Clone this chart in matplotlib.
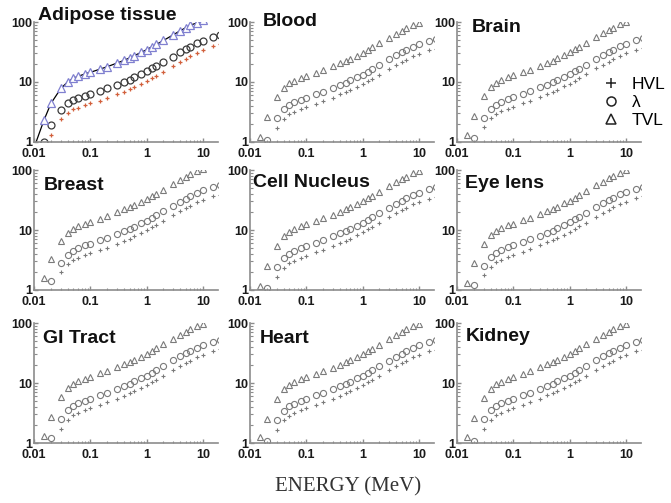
import numpy as np
import matplotlib
matplotlib.use('Agg')
import matplotlib.pyplot as plt
from matplotlib.lines import Line2D
from matplotlib.ticker import LogLocator, FixedLocator, FixedFormatter, NullFormatter

nan = np.nan

# photon energies (MeV)
energy = [0.01, 0.015, 0.02, 0.03, 0.04, 0.05, 0.06, 0.08, 0.1, 0.15, 0.2, 0.3, 0.4,
          0.5, 0.6, 0.8, 1.0, 1.25, 1.5, 2, 3, 4, 5, 6, 8, 10, 15, 20]

tissues = ['Adipose tissue', 'Blood', 'Brain', 'Breast', 'Cell Nucleus',
           'Eye lens', 'GI Tract', 'Heart', 'Kidney']

# values
adipose_tvl = [0.8, 2.3, 4.4, 7.8, 10.1, 11.5, 12.4, 13.6, 14.5, 16.4, 18.0, 20.7, 23.0, 25.3,
               27.4, 31.1, 34.5, 38.7, 42.4, 49.3, 61.3, 71.9, 80.6, 88.7, 97.0, 106, nan, nan]
adipose_lam = [nan, 1.0, 1.9, 3.4, 4.4, 5.0, 5.4, 5.9, 6.3, 7.1, 7.8, 9.0, 10.0, 11.0,
               11.9, 13.5, 15.0, 16.8, 18.4, 21.4, 26.6, 31.2, 35.0, 38.5, 44.3, 48.8, 56.5, 61.0]
adipose_hvl = [nan, nan, 1.3, 2.4, 3.05, 3.5, 3.7, 4.1, 4.4, 4.9, 5.4, 6.2, 6.9, 7.6,
               8.2, 9.4, 10.4, 11.6, 12.8, 14.8, 18.4, 21.6, 24.3, 26.7, 30.7, 33.8, 39.2, 42.3]

blood_tvl = [nan, 1.2, 2.6, 5.7, 8.0, 9.5, 10.5, 11.7, 12.6, 14.3, 15.8, 18.2, 20.4, 22.3,
             24.3, 27.5, 30.5, 34.2, 37.7, 43.9, 54.7, 63.7, 71.5, 78.4, 89.5, 97.8, nan, nan]
blood_lam = [nan, nan, 1.1, 2.5, 3.5, 4.1, 4.6, 5.1, 5.5, 6.3, 6.9, 7.9, 8.9, 9.7,
             10.6, 12.0, 13.3, 14.9, 16.4, 19.1, 23.8, 27.7, 31.1, 34.1, 38.9, 42.5, 48.6, 52.1]
blood_hvl = [nan, nan, nan, 1.7, 2.4, 2.9, 3.2, 3.5, 3.8, 4.3, 4.8, 5.5, 6.2, 6.7,
             7.3, 8.3, 9.2, 10.3, 11.4, 13.2, 16.5, 19.2, 21.6, 23.6, 27.0, 29.5, 33.7, 36.1]

brain_tvl = [nan, 1.3, 2.7, 5.8, 8.2, 9.7, 10.8, 12.0, 12.9, 14.6, 16.1, 18.6, 20.8, 22.8,
             24.7, 28.0, 31.1, 34.9, 38.4, 44.7, 55.7, 65.0, 72.9, 79.9, 91.2, 99.7, nan, nan]
brain_lam = [nan, nan, 1.15, 2.55, 3.6, 4.2, 4.7, 5.2, 5.6, 6.35, 7.0, 8.1, 9.05, 9.9,
             10.75, 12.2, 13.5, 15.15, 16.7, 19.4, 24.2, 28.2, 31.7, 34.7, 39.6, 43.3, 49.5, 53.1]
brain_hvl = [nan, nan, nan, 1.75, 2.5, 2.9, 3.25, 3.6, 3.9, 4.4, 4.85, 5.6, 6.3, 6.85,
             7.45, 8.45, 9.35, 10.5, 11.6, 13.45, 16.8, 19.55, 21.95, 24.05, 27.45, 30.0, 34.3, 36.8]

breast_tvl = [nan, 1.6, 3.3, 6.6, 9.0, 10.5, 11.5, 12.8, 13.7, 15.5, 17.0, 19.7, 22.0, 24.1,
              26.1, 29.7, 32.9, 36.8, 40.5, 47.2, 58.7, 68.6, 76.9, 84.3, 96.0, 104, nan, nan]
breast_lam = [nan, nan, 1.4, 2.85, 3.9, 4.55, 5.0, 5.55, 5.95, 6.75, 7.4, 8.55, 9.55, 10.45,
              11.35, 12.9, 14.3, 16.0, 17.6, 20.5, 25.5, 29.8, 33.4, 36.6, 41.7, 45.7, 52.2, 55.9]
breast_hvl = [nan, nan, nan, 1.97, 2.7, 3.15, 3.45, 3.85, 4.1, 4.7, 5.1, 5.9, 6.6, 7.2,
              7.9, 8.9, 9.9, 11.1, 12.2, 14.2, 17.7, 20.7, 23.2, 25.4, 28.9, 31.7, 36.2, 38.7]

nucleus_tvl = [nan, 1.17, 2.5, 5.5, 7.8, 9.3, 10.3, 11.5, 12.4, 14.1, 15.6, 18.0, 20.2, 22.1,
               24.0, 27.2, 30.2, 33.9, 37.3, 43.5, 54.2, 63.2, 70.9, 77.8, 88.8, 97.0, nan, nan]
nucleus_lam = [nan, nan, 1.08, 2.4, 3.4, 4.05, 4.5, 5.0, 5.4, 6.1, 6.8, 7.8, 8.8, 9.6,
               10.4, 11.8, 13.1, 14.7, 16.2, 18.9, 23.5, 27.4, 30.8, 33.8, 38.6, 42.1, 48.2, 51.7]
nucleus_hvl = [nan, nan, nan, 1.65, 2.35, 2.8, 3.1, 3.45, 3.75, 4.25, 4.7, 5.4, 6.1, 6.65,
               7.2, 8.2, 9.1, 10.2, 11.2, 13.1, 16.3, 19.0, 21.3, 23.4, 26.8, 29.2, 33.4, 35.8]

eye_tvl = [nan, 1.3, 2.8, 5.9, 8.2, 9.7, 10.7, 11.9, 12.8, 14.5, 16.0, 18.4, 20.6, 22.5,
           24.5, 27.8, 30.8, 34.5, 38.0, 44.3, 55.2, 64.3, 72.2, 79.1, 90.3, 98.6, nan, nan]
eye_lam = [nan, nan, 1.2, 2.55, 3.55, 4.2, 4.65, 5.15, 5.55, 6.3, 6.95, 8.0, 8.95, 9.8,
           10.65, 12.1, 13.4, 15.0, 16.5, 19.2, 24.0, 27.9, 31.4, 34.4, 39.2, 42.8, 49.0, 52.5]
eye_hvl = [nan, nan, nan, 1.75, 2.45, 2.9, 3.2, 3.55, 3.85, 4.35, 4.8, 5.55, 6.2, 6.8,
           7.4, 8.4, 9.3, 10.4, 11.45, 13.3, 16.6, 19.35, 21.8, 23.85, 27.2, 29.7, 34.0, 36.4]

gi_tvl = [nan, 1.32, 2.75, 5.8, 8.1, 9.6, 10.6, 11.8, 12.7, 14.4, 15.9, 18.3, 20.5, 22.4,
          24.4, 27.6, 30.6, 34.3, 37.8, 44.0, 54.9, 63.9, 71.7, 78.6, 89.8, 98.0, nan, nan]
gi_lam = [nan, nan, 1.2, 2.5, 3.5, 4.15, 4.6, 5.1, 5.5, 6.25, 6.9, 7.95, 8.9, 9.75,
          10.6, 12.0, 13.3, 14.9, 16.4, 19.1, 23.8, 27.8, 31.2, 34.2, 39.0, 42.6, 48.7, 52.2]
gi_hvl = [nan, nan, nan, 1.7, 2.4, 2.9, 3.2, 3.55, 3.8, 4.35, 4.8, 5.5, 6.15, 6.75,
          7.35, 8.3, 9.2, 10.3, 11.4, 13.25, 16.5, 19.25, 21.6, 23.7, 27.0, 29.5, 33.8, 36.2]

heart_tvl = [nan, 1.25, 2.5, 5.5, 7.9, 9.4, 10.4, 11.6, 12.5, 14.2, 15.7, 18.1, 20.3, 22.2,
             24.1, 27.3, 30.3, 34.0, 37.5, 43.7, 54.4, 63.4, 71.2, 78.0, 89.1, 97.4, nan, nan]
heart_lam = [nan, nan, 1.07, 2.45, 3.45, 4.1, 4.55, 5.05, 5.45, 6.2, 6.85, 7.85, 8.8, 9.65,
             10.5, 11.9, 13.2, 14.8, 16.3, 19.0, 23.6, 27.5, 30.9, 33.9, 38.7, 42.3, 48.4, 51.9]
heart_hvl = [nan, nan, nan, 1.65, 2.4, 2.85, 3.15, 3.5, 3.8, 4.3, 4.75, 5.45, 6.1, 6.7,
             7.25, 8.25, 9.15, 10.25, 11.3, 13.15, 16.4, 19.1, 21.4, 23.5, 26.8, 29.3, 33.5, 36.0]

kidney_tvl = [nan, 1.26, 2.6, 5.6, 8.0, 9.5, 10.5, 11.7, 12.6, 14.3, 15.8, 18.2, 20.4, 22.3,
              24.3, 27.5, 30.5, 34.2, 37.7, 43.9, 54.7, 63.7, 71.5, 78.4, 89.5, 97.8, nan, nan]
kidney_lam = [nan, nan, 1.1, 2.5, 3.5, 4.1, 4.6, 5.1, 5.5, 6.3, 6.9, 7.9, 8.9, 9.7,
              10.6, 12.0, 13.3, 14.9, 16.4, 19.1, 23.8, 27.7, 31.1, 34.1, 38.9, 42.5, 48.6, 52.1]
kidney_hvl = [nan, nan, nan, 1.7, 2.4, 2.9, 3.2, 3.5, 3.8, 4.3, 4.8, 5.5, 6.2, 6.7,
              7.3, 8.3, 9.2, 10.3, 11.4, 13.2, 16.5, 19.2, 21.6, 23.6, 27.0, 29.5, 33.7, 36.1]

tvl_all = [adipose_tvl, blood_tvl, brain_tvl, breast_tvl, nucleus_tvl,
           eye_tvl, gi_tvl, heart_tvl, kidney_tvl]
lam_all = [adipose_lam, blood_lam, brain_lam, breast_lam, nucleus_lam,
           eye_lam, gi_lam, heart_lam, kidney_lam]
hvl_all = [adipose_hvl, blood_hvl, brain_hvl, breast_hvl, nucleus_hvl,
           eye_hvl, gi_hvl, heart_hvl, kidney_hvl]

# layout (pixels in a 671x503 figure)
W, H = 671, 503
col_left = [34, 250, 457]
row_top = [22, 170, 323]
ax_w, ax_h = 184, 120
# title anchor inside each panel (axes fraction)
title_xy = [(0.022, 1.017), (0.07, 0.967), (0.08, 0.917),
            (0.054, 0.833), (0.016, 0.858), (0.043, 0.85),
            (0.05, 0.833), (0.054, 0.833), (0.05, 0.85)]

gray = '#7a7a7a'
axis_gray = '#8c8c8c'

fig = plt.figure(figsize=(W / 100, H / 100), dpi=100)

for i, name in enumerate(tissues):
    r, c = divmod(i, 3)
    ax = fig.add_axes([col_left[c] / W, 1 - (row_top[r] + ax_h) / H, ax_w / W, ax_h / H])
    ax.set_xscale('log')
    ax.set_yscale('log')

    if i == 0:
        # adipose panel was drawn in colour, with a line under the TVL points
        ax.plot(energy, tvl_all[i], '-', color='black', lw=0.9, zorder=2)
        ax.plot(energy, tvl_all[i], '^', ms=5.2, mfc='white', mec='#8080d0', mew=0.9, zorder=3)
        ax.plot(energy, lam_all[i], 'o', ms=5.0, mfc='none', mec='#3a3a3a', mew=0.9)
        ax.plot(energy, hvl_all[i], '+', ms=3.5, color='#d2603c', mew=0.9)
    else:
        ax.plot(energy, tvl_all[i], '^', ms=4.4, mfc='none', mec=gray, mew=0.8)
        ax.plot(energy, lam_all[i], 'o', ms=4.4, mfc='none', mec=gray, mew=0.8)
        ax.plot(energy, hvl_all[i], '+', ms=3.5, color=gray, mew=0.8)

    ax.set_xlim(0.01, 18.6)
    ax.set_ylim(1, 100)

    for s in ['top', 'right']:
        ax.spines[s].set_visible(False)
    for s in ['left', 'bottom']:
        ax.spines[s].set_color(axis_gray)
        ax.spines[s].set_linewidth(1.2)

    ax.xaxis.set_major_locator(FixedLocator([0.01, 0.1, 1, 10]))
    ax.xaxis.set_major_formatter(FixedFormatter(['0.01', '0.1', '1', '10']))
    ax.yaxis.set_major_locator(FixedLocator([1, 10, 100]))
    ax.yaxis.set_major_formatter(FixedFormatter(['1', '10', '100']))
    ax.xaxis.set_minor_locator(LogLocator(base=10, subs=np.arange(2, 10)))
    ax.yaxis.set_minor_locator(LogLocator(base=10, subs=np.arange(2, 10)))
    ax.xaxis.set_minor_formatter(NullFormatter())
    ax.yaxis.set_minor_formatter(NullFormatter())
    ax.tick_params(which='major', direction='in', length=3, width=1, color=axis_gray,
                   labelsize=9, labelcolor='#1a1a1a')
    ax.tick_params(axis='x', which='major', pad=4.5)
    ax.tick_params(axis='y', which='major', pad=1.5)
    ax.tick_params(which='minor', direction='in', length=1.8, width=0.8, color=axis_gray)
    for lab in ax.get_xticklabels() + ax.get_yticklabels():
        lab.set_fontweight('bold')
        lab.set_family('Liberation Sans')
    ax.patch.set_visible(False)

    tx, ty = title_xy[i]
    ax.text(tx, ty, name, transform=ax.transAxes, fontsize=14, fontweight='bold',
            family='Liberation Sans', color='#111111', va='baseline', ha='left')

    if i == 2:
        handles = [Line2D([], [], ls='none', marker='+', ms=7, color='#222222', mew=1.1),
                   Line2D([], [], ls='none', marker='o', ms=6.5, mfc='none', mec='#222222', mew=1.1),
                   Line2D([], [], ls='none', marker='^', ms=7, mfc='none', mec='#222222', mew=1.1)]
        ax.legend(handles, ['HVL', 'λ', 'TVL'], loc='upper left', bbox_to_anchor=(0.79, 0.54),
                  frameon=False, handlelength=1.0, handletextpad=0.7, labelspacing=0.15,
                  borderpad=0, borderaxespad=0,
                  prop={'family': 'Liberation Sans', 'size': 12.5})

fig.text(0.518, 0.032, 'ENERGY (MeV)', ha='center', va='center', fontsize=15,
         family='Liberation Serif', color='#333333')

fig.savefig('out.png', dpi=100)
